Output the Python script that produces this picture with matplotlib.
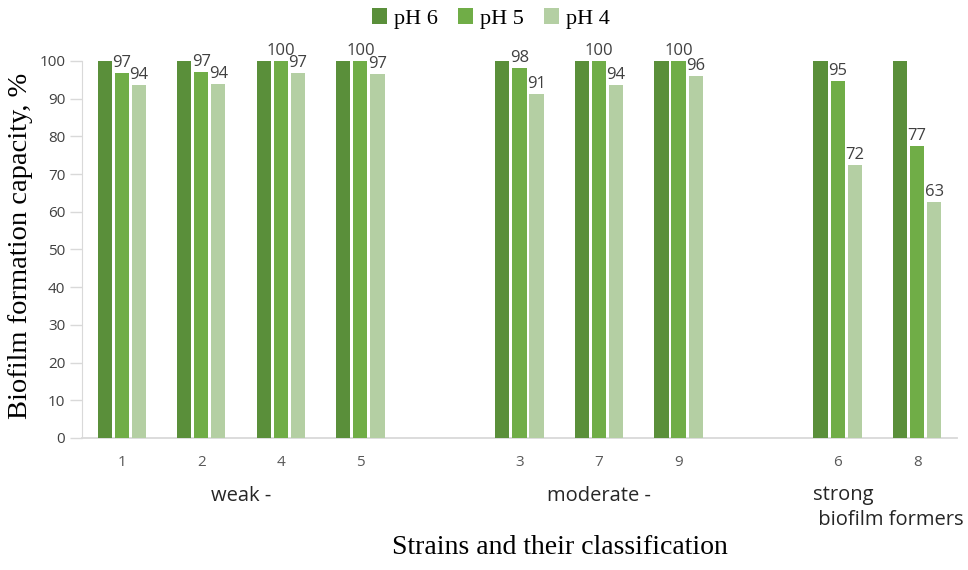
import matplotlib
matplotlib.use("Agg")
import matplotlib.pyplot as plt
import numpy as np

strains = ["1", "2", "4", "5", "", "3", "7", "9", "", "6", "8"]
ph6 = [100, 100, 100, 100, np.nan, 100, 100, 100, np.nan, 100, 100]
ph5 = [96.7, 97.0, 100, 100, np.nan, 98.2, 100, 100, np.nan, 94.6, 77.4]
ph4 = [93.5, 94.0, 96.7, 96.6, np.nan, 91.2, 93.5, 96.0, np.nan, 72.4, 62.7]
series_names = ["pH 6", "pH 5", "pH 4"]
groups = ["weak -", "moderate -", "strong\n biofilm formers"]

colors = ["#5A8F3A", "#70AD47", "#B4CFA3"]
tick_font = "Open Sans"
serif = "Liberation Serif"

fig = plt.figure(figsize=(9.68, 5.70), dpi=100)
ax = fig.add_axes([0.0847, 0.2316, 0.9039, 0.6614])

x = np.arange(len(strains))
w = 0.178
step = 0.215
series = [ph6, ph5, ph4]
handles = []
for i, (vals, c) in enumerate(zip(series, colors)):
    xs = x + (i - 1) * step
    b = ax.bar(xs, vals, width=w, color=c, label=series_names[i], zorder=3)
    handles.append(b)
    if i > 0:
        for xi, v in zip(xs, vals):
            if np.isnan(v):
                continue
            ax.annotate(f"{v:.0f}", (xi, v), xytext=(0, 1.5), textcoords="offset points",
                        ha="center", va="bottom", fontsize=12, color="#404040",
                        family=tick_font, clip_on=False, annotation_clip=False)

ax.set_xlim(-0.5, 10.5)
ax.set_ylim(0, 100)
ax.set_yticks(np.arange(0, 101, 10))
ax.set_xticks([xi for xi, s in zip(x, strains) if s])
ax.set_xticklabels([s for s in strains if s], family=tick_font, fontsize=11, color="#595959")
for lab in ax.get_yticklabels():
    lab.set_family(tick_font)
    lab.set_fontsize(11)
    lab.set_color("#404040")
ax.tick_params(axis="x", length=0, pad=12)
ax.tick_params(axis="y", length=9, color="#D9D9D9", width=1, pad=3)
for s in ["top", "right"]:
    ax.spines[s].set_visible(False)
ax.spines["left"].set_color("#D9D9D9")
ax.spines["bottom"].set_color("#D9D9D9")
ax.spines["bottom"].set_linewidth(1.3)

trans = ax.get_xaxis_transform()
ax.text(1.5, -0.155, groups[0], transform=trans, ha="center", va="center",
        fontsize=14.5, family=tick_font, color="#262626")
ax.text(6.0, -0.155, groups[1], transform=trans, ha="center", va="center",
        fontsize=14.5, family=tick_font, color="#262626")
ax.text(8.69, -0.185, groups[2], transform=trans, ha="left", va="center",
        fontsize=14.5, family=tick_font, color="#262626", linespacing=1.35)

ax.set_ylabel("Biofilm formation capacity, %", family=serif, fontsize=20.5)
ax.yaxis.set_label_coords(-0.056, 0.509)
fig.text(0.578, 0.0386, "Strains and their classification", family=serif, fontsize=20,
         ha="center", va="center")

leg = fig.legend(handles=handles, labels=series_names, loc="center", bbox_to_anchor=(0.507, 0.968),
                 ncol=3, frameon=False, prop={"family": serif, "size": 16},
                 handlelength=0.7, handleheight=0.7, handletextpad=0.3, columnspacing=0.9)

fig.savefig("out.png", dpi=100)
